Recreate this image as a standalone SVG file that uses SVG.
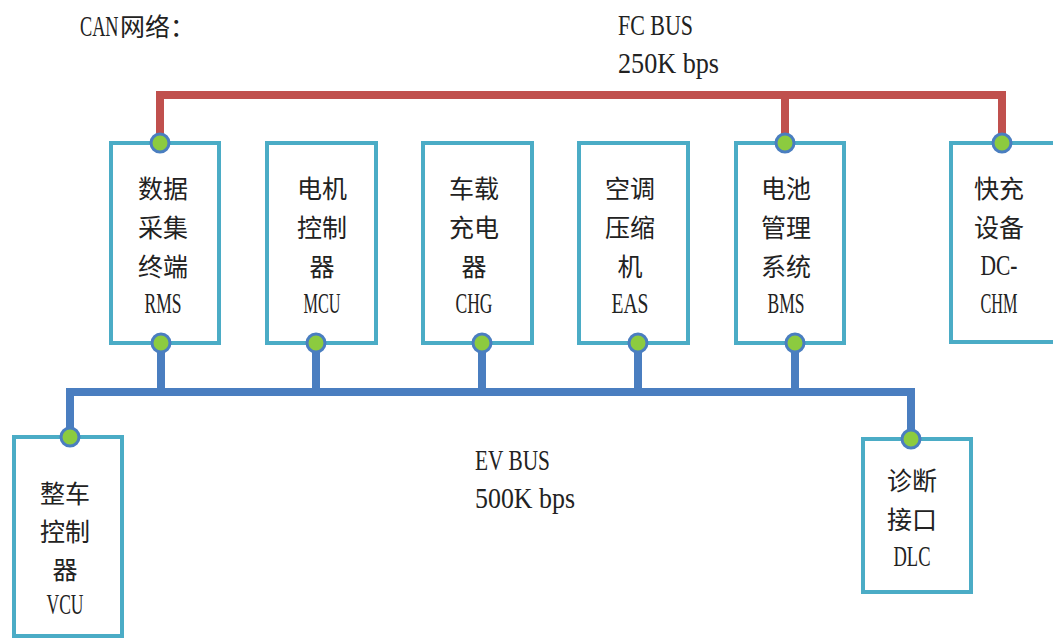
<svg xmlns="http://www.w3.org/2000/svg" width="1053" height="638" viewBox="0 0 1053 638">
<style>
.box{fill:#ffffff;stroke:#4BACC6;stroke-width:4}
.cjk{font-family:"Noto Sans CJK SC","Noto Sans CJK JP",sans-serif;font-size:25px;fill:#222;text-anchor:middle}
.lat{font-family:"Liberation Serif",serif;font-size:30px;fill:#222;text-anchor:middle}
.latl{font-family:"Liberation Serif",serif;font-size:29px;fill:#222}
.red{fill:none;stroke:#C0504D;stroke-width:8}
.blue{fill:none;stroke:#4A7EC0;stroke-width:8}
.dot{fill:#8CCB3F;stroke:#4A7EC0;stroke-width:3}
</style>
<rect width="1053" height="638" fill="#ffffff"/>
<text class="latl" transform="translate(80,36) scale(0.63,1)" x="0" y="0">CAN</text>
<text class="cjk" x="120" y="36" style="text-anchor:start">网络：</text>
<text class="latl" x="618" y="35" textLength="75" lengthAdjust="spacingAndGlyphs">FC BUS</text>
<text class="latl" x="618" y="73" textLength="101" lengthAdjust="spacingAndGlyphs">250K bps</text>
<text class="latl" x="475" y="470" textLength="75" lengthAdjust="spacingAndGlyphs">EV BUS</text>
<text class="latl" x="475" y="508" textLength="100" lengthAdjust="spacingAndGlyphs">500K bps</text>
<g id="connectors">
<path class="red" d="M160,143 V95 H1002 V143"/>
<path class="red" d="M785,95 V143"/>
<path class="blue" d="M70,437 V392 H911 V439"/>
<path class="blue" d="M161,343 V392 M316,343 V392 M482,343 V392 M638,343 V392 M795,343 V392"/>
</g>
<g id="RMS">
<rect class="box" x="111" y="143" width="108" height="200"/>
<text class="cjk" x="163" y="198">数据</text>
<text class="cjk" x="163" y="237">采集</text>
<text class="cjk" x="163" y="276">终端</text>
<text class="lat" x="163" y="313" textLength="37" lengthAdjust="spacingAndGlyphs">RMS</text>
</g>
<g id="MCU">
<rect class="box" x="267" y="143" width="109" height="200"/>
<text class="cjk" x="322" y="198">电机</text>
<text class="cjk" x="322" y="237">控制</text>
<text class="cjk" x="322" y="276">器</text>
<text class="lat" x="322" y="313" textLength="37" lengthAdjust="spacingAndGlyphs">MCU</text>
</g>
<g id="CHG">
<rect class="box" x="423" y="143" width="109" height="200"/>
<text class="cjk" x="474" y="198">车载</text>
<text class="cjk" x="474" y="237">充电</text>
<text class="cjk" x="474" y="276">器</text>
<text class="lat" x="474" y="313" textLength="37" lengthAdjust="spacingAndGlyphs">CHG</text>
</g>
<g id="EAS">
<rect class="box" x="579" y="143" width="109" height="200"/>
<text class="cjk" x="630" y="198">空调</text>
<text class="cjk" x="630" y="237">压缩</text>
<text class="cjk" x="630" y="276">机</text>
<text class="lat" x="630" y="313" textLength="37" lengthAdjust="spacingAndGlyphs">EAS</text>
</g>
<g id="BMS">
<rect class="box" x="736" y="143" width="108" height="200"/>
<text class="cjk" x="786" y="198">电池</text>
<text class="cjk" x="786" y="237">管理</text>
<text class="cjk" x="786" y="276">系统</text>
<text class="lat" x="786" y="313" textLength="37" lengthAdjust="spacingAndGlyphs">BMS</text>
</g>
<g id="DC-CHM">
<rect class="box" x="951" y="143" width="110" height="199"/>
<text class="cjk" x="999" y="198">快充</text>
<text class="cjk" x="999" y="237">设备</text>
<text class="lat" x="999" y="275" textLength="37" lengthAdjust="spacingAndGlyphs">DC-</text>
<text class="lat" x="999" y="313" textLength="37" lengthAdjust="spacingAndGlyphs">CHM</text>
</g>
<g id="VCU">
<rect class="box" x="14" y="437" width="108" height="199"/>
<text class="cjk" x="65" y="503">整车</text>
<text class="cjk" x="65" y="541">控制</text>
<text class="cjk" x="65" y="579">器</text>
<text class="lat" x="65" y="614" textLength="37" lengthAdjust="spacingAndGlyphs">VCU</text>
</g>
<g id="DLC">
<rect class="box" x="863" y="439" width="108" height="153"/>
<text class="cjk" x="912" y="490">诊断</text>
<text class="cjk" x="912" y="529">接口</text>
<text class="lat" x="912" y="566" textLength="37" lengthAdjust="spacingAndGlyphs">DLC</text>
</g>
<g id="ports">
<circle class="dot" cx="160" cy="143" r="9"/>
<circle class="dot" cx="785" cy="143" r="9"/>
<circle class="dot" cx="1002" cy="143" r="9"/>
<circle class="dot" cx="161" cy="343" r="9"/>
<circle class="dot" cx="316" cy="343" r="9"/>
<circle class="dot" cx="482" cy="343" r="9"/>
<circle class="dot" cx="638" cy="343" r="9"/>
<circle class="dot" cx="795" cy="343" r="9"/>
<circle class="dot" cx="70" cy="437" r="9"/>
<circle class="dot" cx="911" cy="439" r="9"/>
</g>
</svg>
